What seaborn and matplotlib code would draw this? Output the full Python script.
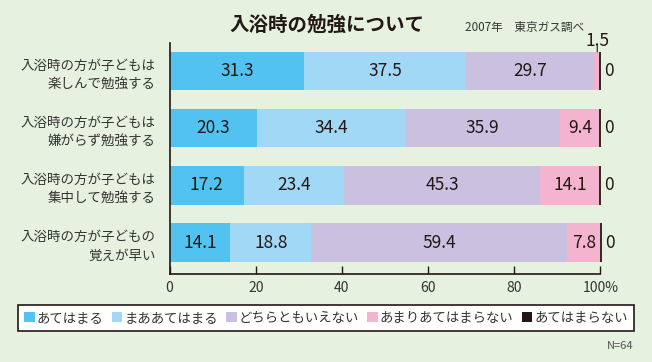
import numpy as np
import pandas as pd
import matplotlib.pyplot as plt
import seaborn as sns
from matplotlib.patches import Patch

# データ
categories = ['入浴時の方が子どもは\n楽しんで勉強する',
              '入浴時の方が子どもは\n嫌がらず勉強する',
              '入浴時の方が子どもは\n集中して勉強する',
              '入浴時の方が子どもの\n覚えが早い']
answers = ['あてはまる', 'まああてはまる', 'どちらともいえない', 'あまりあてはまらない', 'あてはまらない']
atehamaru = [31.3, 20.3, 17.2, 14.1]
maa_atehamaru = [37.5, 34.4, 23.4, 18.8]
dochiratomo = [29.7, 35.9, 45.3, 59.4]
amari = [1.5, 9.4, 14.1, 7.8]
atehamaranai = [0, 0, 0, 0]
colors = ['#52c3f0', '#a0d8f5', '#c9c1df', '#f4b3cf', '#231815']

bg = '#e7f1df'
ink = '#231815'

sns.set_theme(style='white')
plt.rcParams['font.family'] = ['Noto Sans CJK JP', 'DejaVu Sans']

series = [atehamaru, maa_atehamaru, dochiratomo, amari, atehamaranai]
df = pd.DataFrame({a: s for a, s in zip(answers, series)}, index=categories)
cum = df.cumsum(axis=1)
left = cum - df

fig = plt.figure(figsize=(6.52, 3.62), dpi=100, facecolor=bg)
ax = fig.add_axes([0.26, 0.2431, 0.661, 0.638])
ax.set_facecolor(bg)

# 積み上げ棒（累積値を右から順に重ねる）
for a, c in reversed(list(zip(answers[:4], colors[:4]))):
    sns.barplot(x=cum[a].values, y=categories, color=c, saturation=1,
                orient='h', width=0.67, ax=ax, linewidth=0)

# あてはまらない(0%)は細い黒線で表示
ypos = np.arange(len(categories))
ax.barh(ypos, df[answers[4]].values, left=left[answers[4]].values, height=0.67,
        color=colors[4], edgecolor=colors[4], linewidth=1.3, clip_on=False)

# 数値ラベル
for i, cat in enumerate(categories):
    for a in answers[:4]:
        v = df.loc[cat, a]
        xc = left.loc[cat, a] + v / 2
        if v >= 5:
            ax.text(xc, i, f'{v:.1f}', ha='center', va='center', fontsize=12.5, color=ink)
        else:
            # 小さい値は棒の上に引き出し線付きで表示
            ax.annotate('', xy=(xc, i - 0.335), xytext=(0, 4), textcoords='offset points',
                        arrowprops=dict(arrowstyle='-', color=ink, lw=0.8, shrinkA=0, shrinkB=0))
            ax.annotate(f'{v:.1f}', xy=(xc, i - 0.335), xytext=(0, 1.5), textcoords='offset points',
                        ha='center', va='bottom', fontsize=12.5, color=ink)
    v0 = df.loc[cat, answers[4]]
    ax.text(cum.loc[cat, answers[4]] + 0.9, i, f'{v0:g}', ha='left', va='center',
            fontsize=12.5, color=ink)

ax.set_xlim(0, 100)
ax.set_ylim(3.55, -0.49)
ax.set_xticks([0, 20, 40, 60, 80, 100])
ax.set_xticklabels(['0', '20', '40', '60', '80', '100%'])
ax.tick_params(axis='x', direction='in', length=5.5, width=1, color=ink, labelsize=10,
               labelcolor='#333333', pad=5, bottom=True)
ax.tick_params(axis='y', length=0, labelsize=9.7, labelcolor='#333333', pad=10)
for lab in ax.get_yticklabels():
    lab.set_linespacing(1.45)
    lab.set_multialignment('right')
ax.set_xlabel('')
ax.set_ylabel('')
for s in ['top', 'right']:
    ax.spines[s].set_visible(False)
for s in ['left', 'bottom']:
    ax.spines[s].set_color(ink)
    ax.spines[s].set_linewidth(1.2)

# タイトル・出典
fig.text(327 / 652, 1 - 25 / 362, '入浴時の勉強について', ha='center', va='center',
         fontsize=14, fontweight='bold', color=ink)
fig.text(525 / 652, 1 - 27 / 362, '2007年\u3000東京ガス調べ', ha='center', va='center',
         fontsize=8.4, color='#333333')

# 凡例
handles = [Patch(facecolor=c, edgecolor='none') for c in colors]
leg = fig.legend(handles, answers, loc='center', ncol=5, mode='expand',
                 bbox_to_anchor=(18 / 652, 1 - 333.3 / 362, 616 / 652, 30.6 / 362),
                 fontsize=9.6, frameon=True, fancybox=False, edgecolor=ink,
                 facecolor='white', framealpha=1, handlelength=0.8, handleheight=0.8,
                 handletextpad=0.15, borderaxespad=0, borderpad=0.45)
leg.get_frame().set_linewidth(1.2)
for t in leg.get_texts():
    t.set_color('#333333')

fig.text(633 / 652, 1 - 346 / 362, 'N=64', ha='right', va='center', fontsize=8, color='#555555')

fig.savefig('out.png', dpi=100, facecolor=bg)
